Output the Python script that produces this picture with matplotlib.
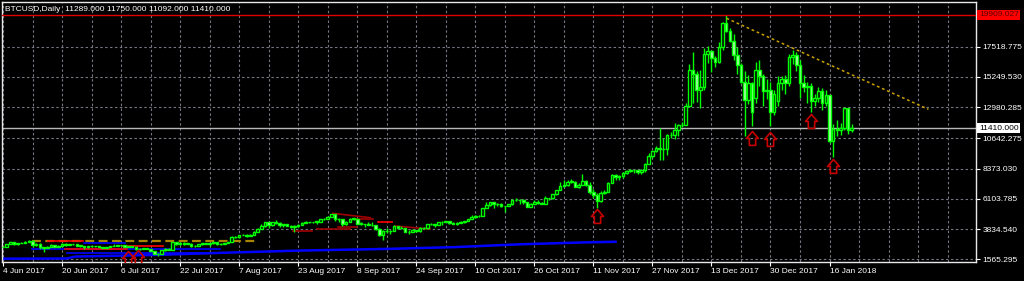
import matplotlib
matplotlib.use('Agg')
import matplotlib.pyplot as plt
from matplotlib.path import Path
from matplotlib.transforms import blended_transform_factory
import numpy as np

plt.rcParams['font.family'] = ['Liberation Sans', 'DejaVu Sans']

# ---------------- data (daily bars, 4 Jun 2017 .. 22 Jan 2018; 25 Dec and 1 Jan absent) -------------
first_open = 2480
close_jun = [2520, 2700, 2860, 2700, 2790, 2810, 2900, 2950, 2660, 2720, 2480, 2440, 2510, 2650, 2520,
             2600, 2740, 2650, 2700, 2710, 2590, 2580, 2470, 2580, 2570, 2540, 2480]
high_jun = [2560, 2720, 2900, 2880, 2800, 2840, 2920, 2980, 2990, 2780, 2800, 2520, 2540, 2680, 2660,
            2620, 2780, 2770, 2750, 2740, 2720, 2620, 2600, 2600, 2600, 2590, 2560]
low_jun = [2460, 2510, 2690, 2620, 2650, 2760, 2790, 2880, 2480, 2600, 2350, 2150, 2400, 2480, 2500,
           2480, 2580, 2600, 2640, 2660, 2560, 2460, 2350, 2410, 2480, 2520, 2460]

close_jul = [2430, 2500, 2570, 2600, 2610, 2610, 2500, 2560, 2510, 2330, 2350, 2390, 2350, 2200, 2000,
             1950, 2230, 2320, 2280, 2850, 2680, 2810, 2730, 2750, 2580, 2560, 2680, 2790, 2730, 2760, 2870]
high_jul = [2520, 2520, 2600, 2680, 2630, 2630, 2620, 2570, 2570, 2530, 2410, 2420, 2420, 2360, 2210,
            2070, 2240, 2390, 2400, 2900, 2880, 2860, 2830, 2780, 2770, 2620, 2700, 2820, 2800, 2780, 2900]
low_jul = [2400, 2380, 2490, 2560, 2550, 2590, 2480, 2480, 2500, 2300, 2270, 2320, 2330, 2180, 1960,
           1840, 1930, 2200, 2270, 2270, 2630, 2640, 2660, 2700, 2520, 2460, 2540, 2660, 2700, 2600, 2740]

close_aug = [2720, 2710, 2800, 2890, 3250, 3220, 3390, 3420, 3340, 3420, 3650, 3850, 4060, 4330, 4160,
             4380, 4280, 4110, 4190, 4090, 4000, 4090, 4140, 4320, 4370, 4350, 4380, 4380, 4580, 4580, 4770]
high_aug = [2900, 2760, 2810, 2900, 3290, 3300, 3420, 3490, 3430, 3440, 3700, 3950, 4200, 4350, 4380,
            4400, 4480, 4370, 4200, 4190, 4110, 4130, 4250, 4350, 4450, 4380, 4400, 4400, 4620, 4640, 4780]
low_aug = [2670, 2650, 2700, 2790, 2880, 3170, 3200, 3370, 3270, 3340, 3420, 3650, 3850, 4000, 3900,
           4050, 4250, 3980, 3980, 4060, 3930, 3600, 4000, 4120, 4320, 4300, 4320, 4230, 4360, 4520, 4580]

close_sep = [4940, 4580, 4600, 4230, 4380, 4600, 4600, 4230, 4230, 4200, 4160, 4140, 3870, 3400, 3700,
             3670, 3690, 4090, 3920, 3890, 3630, 3600, 3780, 3660, 3930, 3890, 4210, 4190, 4160, 4340]
high_sep = [4970, 4980, 4700, 4610, 4470, 4650, 4680, 4650, 4330, 4250, 4330, 4350, 4150, 3910, 3800,
            3880, 3740, 4120, 4100, 4050, 3920, 3760, 3810, 3790, 3970, 4000, 4220, 4280, 4200, 4360]
low_sep = [4750, 4470, 4400, 4080, 4130, 4370, 4520, 4180, 4120, 4000, 4110, 4080, 3800, 3300, 2990,
           3560, 3500, 3680, 3870, 3860, 3580, 3500, 3590, 3640, 3640, 3860, 3870, 4140, 4020, 4140]

close_oct = [4400, 4410, 4310, 4220, 4320, 4370, 4440, 4610, 4770, 4780, 4820, 5430, 5640, 5830, 5690,
             5750, 5600, 5570, 5700, 6000, 6010, 5980, 5900, 5520, 5750, 5900, 5780, 5750, 6150, 6130, 6470]
high_oct = [4420, 4470, 4470, 4350, 4360, 4420, 4460, 4620, 4880, 4920, 4870, 5450, 5860, 5840, 5840,
            5780, 5770, 5600, 5740, 6080, 6170, 6080, 6070, 5900, 5800, 5980, 5990, 5870, 6290, 6200, 6470]
low_oct = [4160, 4360, 4200, 4190, 4170, 4300, 4300, 4440, 4580, 4700, 4760, 4820, 5400, 5550, 5450,
           5600, 5510, 5150, 5540, 5650, 5920, 5700, 5690, 5500, 5460, 5690, 5720, 5700, 5700, 6030, 6100]

close_nov = [6750, 7030, 7150, 7380, 7400, 6980, 7140, 7460, 7140, 6620, 6360, 5950, 6560, 6630, 7300,
             7900, 7750, 7790, 8040, 8200, 8300, 8250, 8150, 8250, 8750, 9300, 9700, 9950, 9850, 9820]
high_nov = [6760, 7350, 7500, 7480, 7600, 7420, 7280, 7950, 7500, 7330, 6870, 6560, 6720, 6760, 7330,
            7950, 8000, 7890, 8100, 8300, 8370, 8300, 8300, 8350, 8800, 9520, 9750, 10050, 11400, 10700]
low_nov = [6380, 6750, 7000, 7030, 7300, 6960, 6950, 7110, 7100, 6480, 6200, 5400, 5840, 6480, 6600,
           7300, 7530, 7500, 7690, 7980, 8100, 8050, 8000, 8000, 8130, 8750, 9200, 9600, 9000, 9000]

close_dec = [10860, 10910, 11240, 11620, 11670, 13100, 15800, 15500, 14300, 14500, 17000, 17200, 16650,
             16350, 17500, 19300, 18700, 17950, 16900, 16120, 14900, 13500, 14800, 12600,
             15800, 15300, 14200, 14300, 12600, 13950]
high_dec = [11000, 11150, 11800, 11700, 11900, 13300, 16200, 17100, 15700, 15800, 17400, 17550, 17300,
            16850, 17900, 19400, 19909.027, 18950, 18500, 17500, 16300, 15700, 15400, 14900,
            16400, 16500, 15500, 15100, 14850, 14300]
low_dec = [9400, 10700, 10600, 10820, 11500, 11650, 13000, 13300, 13400, 12900, 14300, 16300, 15600,
           16000, 16300, 17300, 18600, 17900, 16500, 15500, 14800, 10850, 13200, 11600,
           13300, 14600, 13100, 13600, 11600, 12400]

close_jan = [14830, 15070, 14830, 16760, 16870, 16120, 14830, 14470, 14550, 13460, 13700, 14170, 13300,
             13900, 10480, 11340, 11250, 11450, 12900, 11289, 11410]
high_jan = [15300, 15320, 15400, 17000, 17250, 17100, 16500, 15400, 14900, 14830, 14000, 14500, 14400,
            14300, 13900, 11720, 12000, 11800, 12950, 12950, 11750]
low_jan = [13100, 14300, 14000, 14600, 16250, 15700, 13700, 14100, 13300, 12600, 13100, 13400, 12800,
           13100, 10300, 9230, 10800, 10900, 11300, 11000, 11092]

gap_opens = {204: 13700, 210: 13460}   # opens after the missing 25 Dec and 1 Jan bars

closes = close_jun + close_jul + close_aug + close_sep + close_oct + close_nov + close_dec + close_jan
highs = high_jun + high_jul + high_aug + high_sep + high_oct + high_nov + high_dec + high_jan
lows = low_jun + low_jul + low_aug + low_sep + low_oct + low_nov + low_dec + low_jan
opens = [first_open] + closes[:-1]
for k, v in gap_opens.items():
    opens[k] = v

tick_idx = [0, 16, 32, 48, 64, 80, 96, 112, 128, 144, 160, 176, 192, 208, 224]
tick_labels = ['4 Jun 2017', '20 Jun 2017', '6 Jul 2017', '22 Jul 2017', '7 Aug 2017', '23 Aug 2017',
               '8 Sep 2017', '24 Sep 2017', '10 Oct 2017', '26 Oct 2017', '11 Nov 2017', '27 Nov 2017',
               '13 Dec 2017', '30 Dec 2017', '16 Jan 2018']
y_ticks = [1565.295, 3834.540, 6103.785, 8373.030, 10642.275, 12980.285, 15249.530, 17518.775]
y_tick_labels = ['1565.295', '3834.540', '6103.785', '8373.030', '10642.275', '12980.285',
                 '15249.530', '17518.775']

symbol = 'BTCUSD,Daily'
last_ohlc = [11289.000, 11750.000, 11092.000, 11410.000]
bid_price = 11410.000
resistance_level = 19909.027

# drawn objects (bar index, price)
trend_idx = [196.1, 250.8]
trend_price = [19650, 12820]
arrow_idx = [161, 203, 208, 219, 225, 33.9, 36.6]
arrow_price = [5317, 11215, 11140, 12468, 9069, 2200, 2300]
blue_ma_idx = [0, 17.3, 19.5, 39.8, 61.5, 80.5, 104.9, 122.5, 140, 157.7, 166]
blue_ma_price = [1610, 1625, 1770, 1885, 2070, 2220, 2350, 2480, 2690, 2835, 2880]
olive_idx = [7.8, 68.9]
olive_price = [2960, 2960]
blue_segs = [((7.8, 2315), (58.8, 2315)), ((22.0, 2790), (33.0, 2790)), ((17.3, 2040), (58.8, 2040))]
red_segs = [((12.2, 2920), (21.7, 2920)), ((16.8, 2330), (33.6, 2330)), ((32.5, 2530), (43.4, 2530))]
darkred_segs = [((78.6, 3711), (83.7, 3711)), ((85.1, 3861), (94.0, 3861)),
                ((89.4, 5017), (99.5, 4687)), ((90.8, 4011), (95.9, 4011)),
                ((95.4, 4612), (100.3, 4612)), ((106.2, 4064), (115.7, 3839))]
brightred_segs = [((101.6, 4327), (105.4, 4327))]

# ---------------- figure ----------------
W, H = 1024, 281
fig = plt.figure(figsize=(W / 100, H / 100), dpi=100, facecolor='black')
ax = fig.add_axes([2 / W, 19 / H, 974 / W, 260 / H])
ax.set_facecolor('black')
ax.set_xlim(-0.27, 263.7)
ax.set_ylim(1362.7, 20873)

x = np.arange(len(closes))
o = np.array(opens, float)
c = np.array(closes, float)
h = np.maximum(np.array(highs, float), np.maximum(o, c))
l = np.minimum(np.array(lows, float), np.minimum(o, c))

# grid
ax.set_xticks(tick_idx)
ax.set_xticklabels(tick_labels, ha='left')
ax.set_xticks(np.arange(8, 264, 8), minor=True)
ax.set_yticks(y_ticks)
ax.set_yticklabels(y_tick_labels)
ax.yaxis.tick_right()
gkw = dict(color='#777784', linestyle=(0, (2.2, 2.2)), linewidth=0.8)
ax.grid(True, which='both', axis='x', **gkw)
ax.grid(True, which='major', axis='y', **gkw)
ax.set_axisbelow(True)

ax.tick_params(axis='x', which='major', colors='white', length=3, width=0.8, pad=1, labelsize=6)
ax.tick_params(axis='x', which='minor', length=0)
ax.tick_params(axis='y', colors='white', length=3, width=0.8, pad=1.5, labelsize=6)
for sp in ax.spines.values():
    sp.set_color('#e8e8e8')
    sp.set_linewidth(1)

# lines on the lower part
ax.plot(blue_ma_idx, blue_ma_price, color='#0000ff', lw=1.8, zorder=2)
ax.plot(olive_idx, olive_price, color='#a88400', lw=1.6, linestyle=(0, (4, 2)), zorder=2)
for (a, b) in blue_segs:
    ax.plot([a[0], b[0]], [a[1], b[1]], color='#0000ff', lw=1.2, zorder=2)
for (a, b) in red_segs:
    ax.plot([a[0], b[0]], [a[1], b[1]], color='#ff0000', lw=1.2, zorder=2)
for (a, b) in darkred_segs:
    ax.plot([a[0], b[0]], [a[1], b[1]], color='#a00000', lw=1.2, zorder=2)
for (a, b) in brightred_segs:
    ax.plot([a[0], b[0]], [a[1], b[1]], color='#ff0000', lw=1.2, zorder=2)

# candles
ax.vlines(x, l, h, color='#00ff00', lw=1.0, zorder=3)
bull = c >= o
body = np.maximum(np.abs(c - o), 30)
bottom = np.minimum(o, c)
ax.bar(x[bull], body[bull], bottom=bottom[bull], width=0.7, facecolor='black',
       edgecolor='#00ff00', linewidth=1.0, zorder=4)
ax.bar(x[~bull], body[~bull], bottom=bottom[~bull], width=0.7, facecolor='#b0ffb0',
       edgecolor='#00ff00', linewidth=1.0, zorder=4)

# horizontal levels
ax.axhline(resistance_level, color='#e00000', lw=1, zorder=5)
ax.axhline(bid_price, color='#b8b8b8', lw=1, zorder=1)

# trend line
ax.plot(trend_idx, trend_price, color='#c8a000', lw=1.1, linestyle=(0, (1.8, 1.8)), zorder=5)

# arrows
arrow = Path([(0, 0), (6, -7), (3.2, -7), (3.2, -14), (-3.2, -14), (-3.2, -7), (-6, -7), (0, 0)],
             [Path.MOVETO] + [Path.LINETO] * 6 + [Path.CLOSEPOLY])
ax.plot(arrow_idx, arrow_price, linestyle='none', marker=arrow, markersize=20,
        markerfacecolor='none', markeredgecolor='#c80000', markeredgewidth=1.2, zorder=6,
        clip_on=True)

# price labels on the right axis
tr = blended_transform_factory(ax.transAxes, ax.transData)
ax.text(1.003, resistance_level, f'{resistance_level:.3f}', transform=tr, va='center', ha='left',
        fontsize=6, color='#5a0000', clip_on=False,
        bbox=dict(facecolor='#ff0000', edgecolor='none', pad=1.2))
ax.text(1.003, bid_price, f'{bid_price:.3f}', transform=tr, va='center', ha='left',
        fontsize=6, color='black', clip_on=False,
        bbox=dict(facecolor='white', edgecolor='none', pad=1.2))

# header
hdr = symbol + '  ' + ' '.join(f'{v:.3f}' for v in last_ohlc)
ax.text(0.003, 0.985, hdr, transform=ax.transAxes, va='top', ha='left', fontsize=6, color='white')

fig.savefig('out.png', dpi=100, facecolor='black')
